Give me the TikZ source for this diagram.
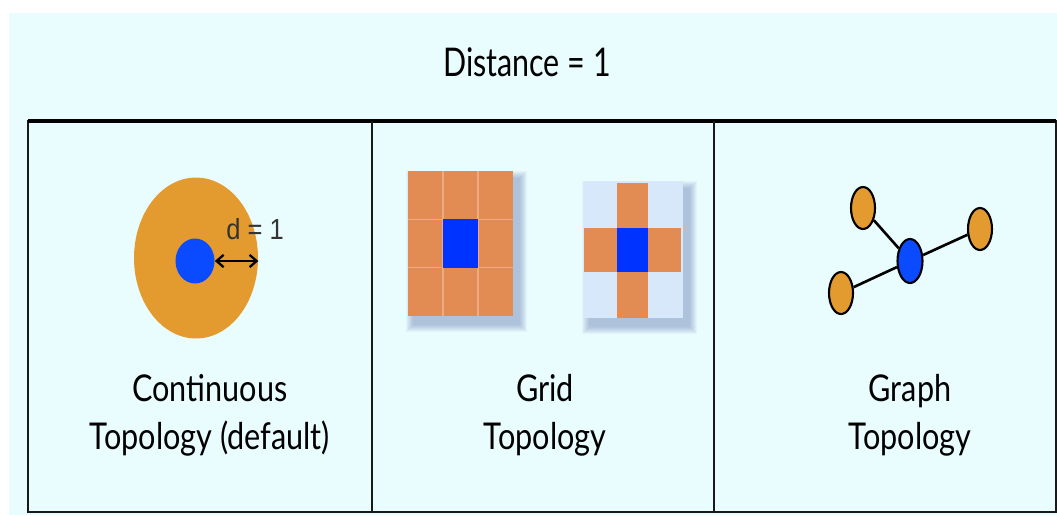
\documentclass[tikz,border=0pt]{standalone}
\usepackage{fontspec}
\setmainfont{Lato}[FakeStretch=0.77]
\newfontfamily\lblfont{Lato}[FakeStretch=0.83]
\newfontfamily\dfont{Liberation Sans}[FakeStretch=0.88]
\usetikzlibrary{arrows.meta,shapes.geometric}
\definecolor{bgCyan}{RGB}{233,253,255}
\definecolor{diskOrange}{RGB}{227,155,47}
\definecolor{cellOrange}{RGB}{226,139,83}
\definecolor{cellLine}{RGB}{238,170,130}
\definecolor{crossBack}{RGB}{215,232,250}
\definecolor{dotBlue}{RGB}{10,75,255}
\definecolor{cellBlue}{RGB}{0,51,255}
\definecolor{shadeBlue}{RGB}{80,100,165}

% soft shadow under a grid panel
\newcommand{\panelshadow}[4]{%
  \foreach \s in {1,...,8}{
    \fill[shadeBlue, opacity=0.055]
      (#1+6-\s,#2+8-\s) rectangle (#3+6+\s,#4+8+\s);
  }%
}

\begin{document}
\begin{tikzpicture}[
  x=0.02cm, y=-0.02cm,
  title/.style={font=\fontsize{22.5}{26}\selectfont},
  lbl/.style={font=\lblfont\fontsize{21}{27.2}\selectfont, align=center},
  frame/.style={line width=1.3pt, draw=black!90},
  disk/.style={ellipse, inner sep=0pt, fill=diskOrange,
    minimum width=2.48cm, minimum height=3.22cm},
  dot/.style={ellipse, inner sep=0pt, fill=dotBlue,
    minimum width=0.78cm, minimum height=0.9cm},
  vtx/.style={ellipse, draw, line width=1.2pt, inner sep=0pt,
    fill=diskOrange, minimum width=0.48cm, minimum height=0.84cm},
  hub/.style={vtx, fill=dotBlue, minimum width=0.5cm, minimum height=0.88cm},
  link/.style={line width=1.5pt},
  dist/.style={{Straight Barb[length=4pt,width=7pt]}-{Straight Barb[length=4pt,width=7pt]}, line width=1.3pt}
]

\useasboundingbox (0,0) rectangle (1057,515);
\fill[white] (0,0) rectangle (1057,515);
\fill[bgCyan] (9,13) rectangle (1057,515);

% Title
\node[title] (head) at (527,62) {Distance = 1};

% Table
\draw[frame] (28,121) rectangle (1056,512);
\draw[line width=2.4pt] (28,121) -- (1056,121);
\draw[frame] (372,121) -- (372,512);
\draw[frame] (714,121) -- (714,512);

% Continuous
\node[disk] (disk) at (196,258) {};
\node[dot] (ctr) at (195,261) {};
\draw[dist] (ctr.east) -- (ctr.east -| disk.east);
\node[font=\dfont\fontsize{16.5}{19}\selectfont, text=black!80] (dlbl) at (255,229) {d = 1};

% Grid (full neighbourhood)
\panelshadow{408}{171}{513}{316}
\fill[cellOrange] (408,171) rectangle (513,316);
\foreach \i in {1,2}{
  \draw[cellLine, line width=0.6pt] (408+35*\i,171) -- (408+35*\i,316);
  \draw[cellLine, line width=0.6pt] (408,171+48.33*\i) -- (513,171+48.33*\i);
}
\fill[cellBlue] (443,219.3) rectangle (478,267.7);

% Grid (cross neighbourhood)
\panelshadow{584}{181}{683}{318}
\fill[crossBack] (584,181) rectangle (683,318);
\fill[cellOrange] (617,183) rectangle (648,318);
\fill[cellOrange] (584,228) rectangle (681,272);
\fill[cellBlue] (617,228) rectangle (648,272);

% Graph
\node[vtx] (v1) at (863,208) {};
\node[vtx] (v2) at (980,229) {};
\node[vtx] (v3) at (841,293) {};
\node[hub] (v0) at (910,261) {};
\draw[link] (v1) -- (v0);
\draw[link] (v2) -- (v0);
\draw[link] (v3) -- (v0);

% Labels
\node[lbl] (l1) at (210,415) {Continuous\\Topology (default)};
\node[lbl] (l2) at (545,415) {Grid\\Topology};
\node[lbl] (l3) at (910,415) {Graph\\Topology};

\end{tikzpicture}
\end{document}
